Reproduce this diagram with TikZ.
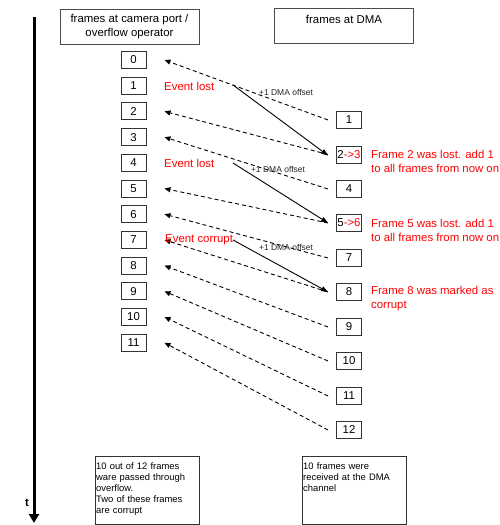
\documentclass[tikz,border=0pt]{standalone}
\usepackage{fontspec}
\setmainfont{Liberation Sans}
\usetikzlibrary{arrows.meta}
\begin{document}
\begin{tikzpicture}[x=1bp,y=-1bp,
  base/.style={font=\fontsize{11.4bp}{14bp}\selectfont},
  fbox/.style={base,draw=black!80,line width=0.9bp,minimum width=25bp,minimum height=17bp,inner sep=0pt},
  hbox/.style={base,draw=black!70,line width=0.9bp,minimum width=139bp,minimum height=35bp,inner sep=0pt,align=center},
  redtxt/.style={base,text=red,anchor=west,inner sep=0pt,align=left},
  offs/.style={font=\fontsize{8.5bp}{10bp}\selectfont,text=black!85,inner sep=0pt},
  dasharrow/.style={dashed,dash pattern=on 4bp off 3bp,line width=0.9bp,-{Triangle[length=6bp,width=5bp]}},
  solidarrow/.style={line width=0.9bp,-{Triangle[length=7bp,width=5bp]}},
  note/.style={font=\fontsize{9.4bp}{11bp}\selectfont,inner sep=0pt,align=left,anchor=north west,text width=100bp},
  notebox/.style={draw=black!80,line width=0.9bp,minimum width=104bp,minimum height=68bp,inner sep=0pt,anchor=north west}
]
\useasboundingbox (0,0) rectangle (500,525);

% time axis
\coordinate (t0) at (34,17);
\coordinate (t1) at (34,523);
\draw[line width=3bp,-{Triangle[length=9bp,width=10bp]}] (t0) -- (t1);
\node[font=\fontsize{11.4bp}{13bp}\selectfont\bfseries] (tl) at (27,503) {t};

% headers
\node[hbox] (hl) at (129.5,26.5) {frames at camera port /\\overflow operator};
\node[hbox] (hr) at (344,26) {frames at DMA\\\mbox{}};

% left boxes
\foreach \i in {0,...,11}{
  \node[fbox] (l\i) at (133.5,{60+25.7*\i}) {\i};
}

% right boxes
\node[fbox] (r1) at (349,120) {1};
\node[fbox] (r2) at (349,154.5) {2\textcolor{red}{->3}};
\node[fbox] (r3) at (349,189) {4};
\node[fbox] (r4) at (349,223) {5\textcolor{red}{->6}};
\node[fbox] (r5) at (349,258) {7};
\node[fbox] (r6) at (349,292) {8};
\node[fbox] (r7) at (349,327) {9};
\node[fbox] (r8) at (349,361) {10};
\node[fbox] (r9) at (349,396) {11};
\node[fbox] (r10) at (349,430) {12};

% dashed arrows
\foreach \r/\l in {1/0,2/2,3/3,4/5,5/6,6/7,7/8,8/9,9/10,10/11}{
  \draw[dasharrow] ([xshift=-8bp]r\r.west) -- ([xshift=18bp]l\l.east);
}

% events
\node[redtxt] (e1) at (164,86) {Event lost};
\node[redtxt] (e2) at (164,163) {Event lost};
\node[redtxt] (e3) at (165,240) {Event corrupt};

% solid arrows
\coordinate (s1) at (233,85);
\coordinate (s2) at (233,163);
\coordinate (s3) at (233,240);
\draw[solidarrow] (s1) -- ([xshift=-8bp,yshift=-1bp]r2.west);
\draw[solidarrow] (s2) -- ([xshift=-8bp]r4.west);
\draw[solidarrow] (s3) -- ([xshift=-8bp]r6.west);

\node[offs] (o1) at (286,92) {+1 DMA offset};
\node[offs] (o2) at (278,169) {+1 DMA offset};
\node[offs] (o3) at (286,247) {+1 DMA offset};

% red notes
\node[redtxt] (n1) at (371,161) {Frame 2 was lost. add 1\\to all frames from now on};
\node[redtxt] (n2) at (371,230) {Frame 5 was lost. add 1\\to all frames from now on};
\node[redtxt] (n3) at (371,299) {Frame 8 was marked as\\corrupt};

% bottom notes
\node[notebox] (b1) at (95,456) {};
\node[note] (b1t) at (96,462) {10 out of 12 frames\\ware passed through\\overflow.\\Two of these frames\\are corrupt};
\node[notebox] (b2) at (302,456) {};
\node[note] (b2t) at (303,462) {10 frames were\\received at the DMA\\channel};
\end{tikzpicture}
\end{document}
